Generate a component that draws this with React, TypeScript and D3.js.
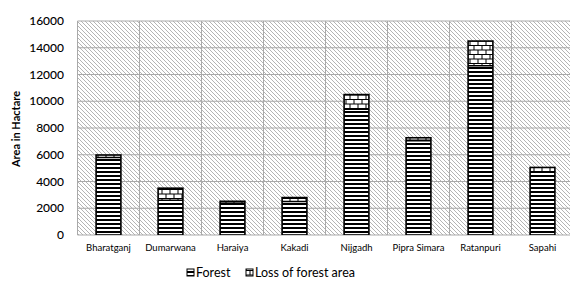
import React from "react";
import * as d3 from "d3";

const categories = ["Bharatganj", "Dumarwana", "Haraiya", "Kakadi", "Nijgadh", "Pipra Simara", "Ratanpuri", "Sapahi"];
const forest = [5800, 2600, 2350, 2500, 9400, 7050, 12650, 4700];
const loss = [180, 900, 170, 300, 1100, 220, 1850, 350];
const yTicks = [0, 2000, 4000, 6000, 8000, 10000, 12000, 14000, 16000];
const seriesNames = ["Forest", "Loss of forest area"];

const W = 570;
const H = 282;
const left = 77.5;
const right = 573.5;
const top = 21;
const bottom = 235;

export default function App() {
  const x = d3.scaleBand<string>().domain(categories).range([left, right]).paddingInner(0.6).paddingOuter(0.3);
  const y = d3.scaleLinear().domain([0, 16000]).range([bottom, top]);
  const step = x.step();
  const bw = x.bandwidth();
  const font = "Lato, 'Open Sans', sans-serif";

  return (
    <svg width={W} height={H} style={{ position: "absolute", left: 0, top: 0, background: "#fff" }}>
      <defs>
        <pattern id="bg" width="4" height="4" patternUnits="userSpaceOnUse">
          <rect width="4" height="4" fill="#ffffff" />
          <path d="M-1,-1 L5,5 M-1,3 L1,5 M3,-1 L5,1" stroke="#b4b4b4" strokeWidth="1" />
        </pattern>
        <pattern id="stripes" width="4" height="4" patternUnits="userSpaceOnUse" y={bottom}>
          <rect width="4" height="4" fill="#ffffff" />
          <rect y="0" width="4" height="2" fill="#000000" />
        </pattern>
        <pattern id="brick" width="8" height="9" patternUnits="userSpaceOnUse" y={0} x={0}>
          <rect width="8" height="9" fill="#ffffff" />
          <path d="M0,0.5 H8 M0,5 H8 M2,0.5 V5 M6,5 V9" stroke="#000" strokeWidth="1" />
        </pattern>
        <clipPath id="plotclip">
          <rect x={left} y={top} width={right - left} height={bottom - top} />
        </clipPath>
      </defs>

      <rect x={left} y={top} width={right - left} height={bottom - top} fill="url(#bg)" />

      {yTicks.map((t) => (
        <line key={"h" + t} x1={left} x2={right} y1={y(t)} y2={y(t)} stroke="#a9a9a9" strokeWidth={1} />
      ))}
      {categories.map((c) => (
        <line key={"v" + c} x1={(x(c) as number) - (step - bw) / 2} x2={(x(c) as number) - (step - bw) / 2} y1={top} y2={bottom} stroke="#a9a9a9" strokeWidth={1} />
      ))}
      <line x1={right} x2={right} y1={top} y2={bottom} stroke="#a9a9a9" strokeWidth={1} />

      <g clipPath="url(#plotclip)">
        {categories.map((c, i) => {
          const bx = x(c) as number;
          const f = forest[i];
          const l = loss[i];
          return (
            <g key={"b" + c}>
              <rect x={bx} y={y(f)} width={bw} height={y(0) - y(f)} fill="url(#stripes)" />
              <rect x={bx} y={y(f + l)} width={bw} height={y(f) - y(f + l)} fill="url(#brick)" />
              <line x1={bx} x2={bx + bw} y1={y(f)} y2={y(f)} stroke="#000" strokeWidth={1.5} />
              <rect x={bx} y={y(f + l)} width={bw} height={y(0) - y(f + l)} fill="none" stroke="#000" strokeWidth={1.6} />
            </g>
          );
        })}
      </g>

      {yTicks.map((t) => (
        <text key={"t" + t} x={64} y={y(t)} dy="0.35em" textAnchor="end" fontFamily={font} fontSize={12} fontWeight={500} fill="#000">
          {t}
        </text>
      ))}

      {categories.map((c) => (
        <text key={"c" + c} x={(x(c) as number) + bw / 2} y={251} textAnchor="middle" fontFamily={font} fontSize={9.5} fill="#000">
          {c}
        </text>
      ))}

      <text transform={`translate(20,129) rotate(-90)`} textAnchor="middle" fontFamily={font} fontSize={11} fontWeight="bold" fill="#000">
        Area in Hactare
      </text>

      <g>
        <rect x={187} y={269} width={7} height={7} fill="url(#stripes)" stroke="#000" strokeWidth={1} />
        <text x={196} y={277} fontFamily={font} fontSize={12.5} fill="#000">{seriesNames[0]}</text>
        <rect x={246} y={269} width={7} height={7} fill="url(#brick)" stroke="#000" strokeWidth={1} />
        <text x={255} y={277} fontFamily={font} fontSize={12.5} fill="#000">{seriesNames[1]}</text>
      </g>
    </svg>
  );
}
